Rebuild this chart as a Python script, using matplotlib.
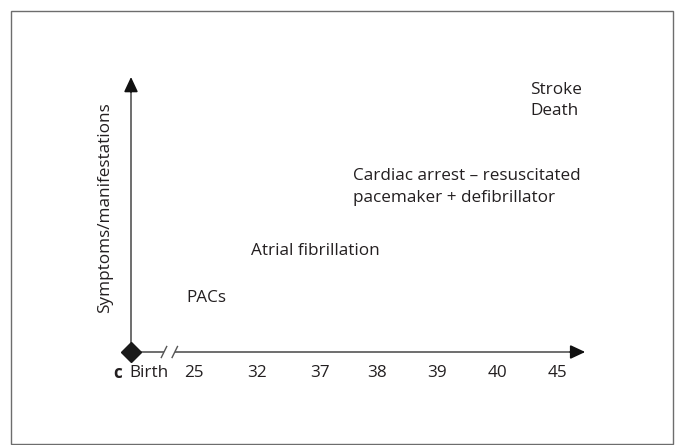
import matplotlib
matplotlib.use("Agg")
import matplotlib.pyplot as plt
from matplotlib.patches import Rectangle

# --- data ---
age_labels = ["Birth", "25", "32", "37", "38", "39", "40", "45"]
age_pos = [0.3, 1.05, 2.1, 3.15, 4.1, 5.1, 6.1, 7.1]

events = ["PACs",
          "Atrial fibrillation",
          "Cardiac arrest \u2013 resuscitated\npacemaker + defibrillator",
          "Stroke\nDeath"]
event_x = [0.93, 2.0, 3.7, 6.65]
event_level = [2.15, 4.05, 6.6, 10.05]

panel = "c"
ylabel = "Symptoms/manifestations"

plt.rcParams['font.family'] = ['Open Sans', 'DejaVu Sans']
txt = "#231f20"
line_col = "#555555"
head_col = "#111111"
fs = 12.3

fig = plt.figure(figsize=(6.76, 4.45), dpi=100)
ax = fig.add_axes([0, 0, 1, 1])
ax.set_xlim(-131 / 60, (676 - 131) / 60)
ax.set_ylim(-93 / 25, 352 / 25)
ax.axis("off")

# outer frame
fig.patches.append(Rectangle((11 / 676, 0.002), 662 / 676, 433 / 445,
                             transform=fig.transFigure, fill=False,
                             edgecolor="#6d6d6d", lw=1.0))

# axes with break
x_end = 7.57
y_end = 11.0
brk = (0.55, 0.73)
arrow = dict(arrowstyle="-|>,head_length=0.9,head_width=0.42",
             color=head_col, lw=1.2, shrinkA=0, shrinkB=0)
ax.plot([0, brk[0]], [0, 0], color=line_col, lw=1.2, solid_capstyle="butt")
ax.plot([brk[1], x_end - 0.2], [0, 0], color=line_col, lw=1.2, solid_capstyle="butt")
ax.annotate("", xy=(x_end, 0), xytext=(x_end - 0.25, 0), arrowprops=arrow)
ax.plot([0, 0], [0, y_end - 0.5], color=line_col, lw=1.2, solid_capstyle="butt")
ax.annotate("", xy=(0, y_end), xytext=(0, y_end - 0.6), arrowprops=arrow)
for b in brk:
    ax.plot([b - 0.045, b + 0.045], [-0.22, 0.22], color=line_col, lw=1.0)
ax.plot([0], [0], marker="D", markersize=10, color="#1a1a1a", zorder=5)

# tick labels
for lab, p in zip(age_labels, age_pos):
    ax.text(p, -0.85, lab, ha="center", va="center", fontsize=fs, color=txt)
ax.text(-0.23, -0.85, panel, ha="center", va="center", fontsize=fs,
        fontweight="bold", color=txt)

# y label
ax.text(-0.43, 5.76, ylabel, rotation=90, ha="center", va="center",
        fontsize=fs, color=txt)

# events
for e, x, y in zip(events, event_x, event_level):
    ax.text(x, y, e, ha="left", va="center", fontsize=fs, color=txt,
            linespacing=1.45)

fig.savefig("out.png", dpi=100)
